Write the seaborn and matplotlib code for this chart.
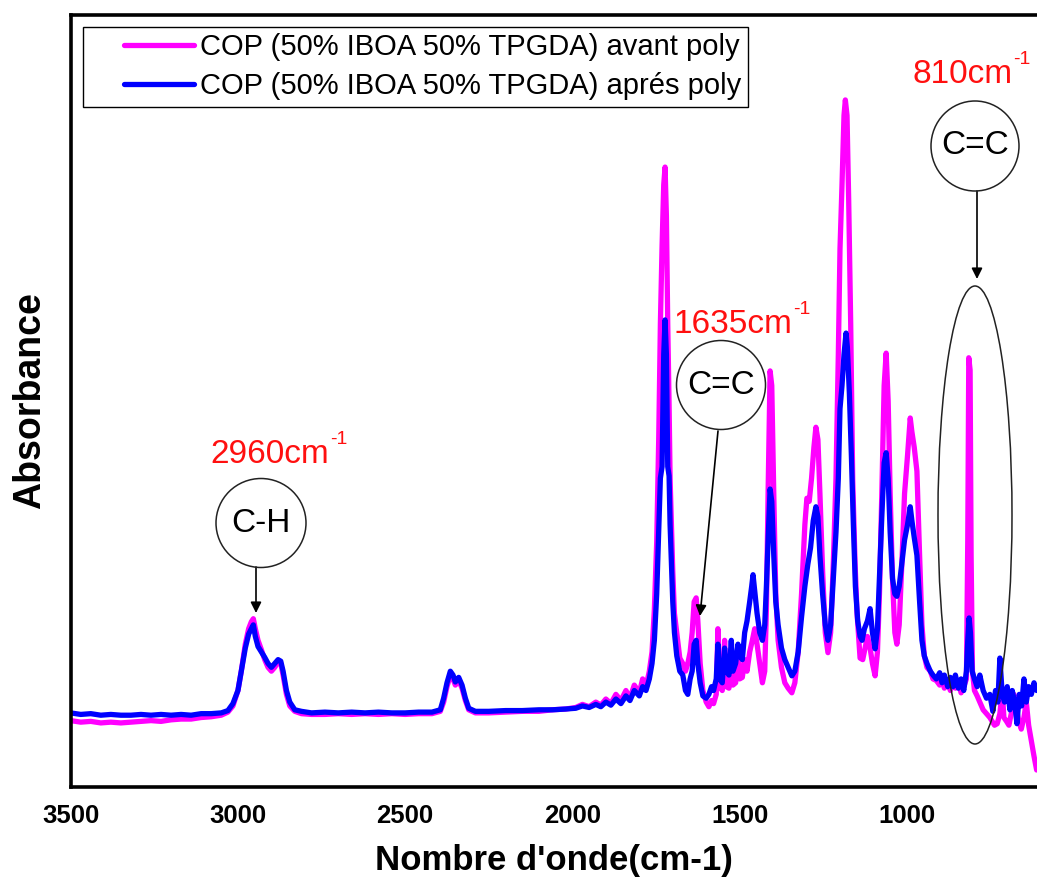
import numpy as np
import pandas as pd
import matplotlib
matplotlib.use("Agg")
import matplotlib.pyplot as plt
import seaborn as sns
from matplotlib.patches import Ellipse
from matplotlib.lines import Line2D
from matplotlib.legend_handler import HandlerLine2D
from matplotlib.font_manager import FontProperties

# ---------------- data ----------------
series_labels = ["COP (50% IBOA 50% TPGDA) avant poly",
                 "COP (50% IBOA 50% TPGDA) aprés poly"]
series_colors = ["#FF00FF", "#0000FF"]

wn_avant = [3500, 3470, 3440, 3410, 3380, 3350, 3320, 3290, 3260, 3230, 3200, 3170, 3140, 3110, 3080, 3050,
            3030, 3015, 3000, 2990, 2978, 2968, 2960, 2954, 2948, 2940, 2930, 2920, 2910, 2900, 2890, 2880,
            2872, 2865, 2855, 2845, 2830, 2810, 2780, 2740, 2700, 2660, 2620, 2580, 2540, 2500, 2460, 2420,
            2395, 2385, 2375, 2365, 2357, 2350, 2340, 2330, 2320, 2310, 2290, 2250, 2200, 2150, 2100, 2060,
            2020, 1990, 1970, 1950, 1930, 1915, 1900, 1885, 1870, 1855, 1840, 1828, 1815, 1800, 1790, 1780,
            1770, 1762, 1755, 1748, 1742, 1737, 1732, 1727, 1723, 1719, 1715, 1711, 1708, 1704, 1700, 1695,
            1688, 1679, 1670, 1662, 1655, 1648, 1642, 1636, 1630, 1625, 1618, 1610, 1600, 1592, 1584, 1578,
            1570, 1565, 1560, 1552, 1545, 1540, 1532, 1525, 1520, 1512, 1505, 1500, 1492, 1485, 1478, 1470,
            1462, 1455, 1448, 1440, 1432, 1425, 1420, 1415, 1409, 1404, 1398, 1392, 1385, 1375, 1365, 1355,
            1344, 1335, 1325, 1315, 1305, 1299, 1292, 1285, 1278, 1272, 1266, 1260, 1252, 1244, 1236, 1228,
            1220, 1212, 1205, 1200, 1194, 1188, 1184, 1179, 1174, 1168, 1162, 1155, 1149, 1140, 1132, 1125,
            1118, 1110, 1103, 1095, 1088, 1082, 1075, 1068, 1062, 1056, 1050, 1043, 1036, 1030, 1023, 1015,
            1007, 998, 990, 985, 978, 970, 962, 955, 948, 940, 930, 922, 912, 902, 895, 888,
            878, 870, 862, 855, 846, 838, 830, 822, 818, 815, 811, 808, 804, 798, 790, 782,
            772, 762, 752, 745, 738, 730, 722, 715, 710, 702, 695, 688, 680, 672, 665, 658,
            650, 643, 636, 628, 620, 612]
abs_avant = [0.086, 0.084, 0.085, 0.083, 0.084, 0.083, 0.084, 0.085, 0.086, 0.085, 0.087, 0.088, 0.088, 0.090, 0.091, 0.093,
             0.097, 0.105, 0.125, 0.150, 0.185, 0.205, 0.214, 0.218, 0.205, 0.190, 0.178, 0.165, 0.155, 0.150, 0.155, 0.162,
             0.160, 0.145, 0.120, 0.105, 0.098, 0.095, 0.094, 0.094, 0.095, 0.094, 0.095, 0.094, 0.095, 0.094, 0.095, 0.095,
             0.098, 0.110, 0.130, 0.145, 0.140, 0.132, 0.138, 0.128, 0.112, 0.100, 0.096, 0.096, 0.097, 0.098, 0.098, 0.100,
             0.101, 0.103, 0.107, 0.104, 0.110, 0.106, 0.114, 0.108, 0.120, 0.112, 0.125, 0.115, 0.132, 0.122, 0.140, 0.130,
             0.150, 0.175, 0.230, 0.317, 0.450, 0.600, 0.700, 0.780, 0.803, 0.740, 0.600, 0.496, 0.400, 0.341, 0.280, 0.225,
             0.200, 0.167, 0.160, 0.150, 0.160, 0.175, 0.200, 0.240, 0.245, 0.215, 0.160, 0.125, 0.110, 0.104, 0.112, 0.108,
             0.120, 0.205, 0.130, 0.125, 0.190, 0.130, 0.128, 0.175, 0.132, 0.135, 0.180, 0.140, 0.142, 0.165, 0.150, 0.175,
             0.190, 0.205, 0.185, 0.160, 0.135, 0.150, 0.230, 0.380, 0.539, 0.520, 0.380, 0.250, 0.190, 0.155, 0.135, 0.128,
             0.122, 0.135, 0.175, 0.250, 0.340, 0.374, 0.370, 0.400, 0.440, 0.466, 0.450, 0.380, 0.280, 0.200, 0.174, 0.200,
             0.290, 0.400, 0.560, 0.697, 0.780, 0.870, 0.890, 0.870, 0.760, 0.600, 0.398, 0.290, 0.225, 0.167, 0.165, 0.180,
             0.195, 0.180, 0.160, 0.144, 0.175, 0.250, 0.380, 0.520, 0.562, 0.500, 0.380, 0.270, 0.200, 0.185, 0.210, 0.290,
             0.380, 0.430, 0.478, 0.460, 0.440, 0.409, 0.300, 0.210, 0.170, 0.155, 0.150, 0.140, 0.138, 0.132, 0.140, 0.128,
             0.135, 0.125, 0.140, 0.128, 0.135, 0.122, 0.130, 0.140, 0.320, 0.556, 0.540, 0.300, 0.150, 0.125, 0.118, 0.110,
             0.100, 0.095, 0.090, 0.085, 0.080, 0.082, 0.095, 0.125, 0.090, 0.085, 0.080, 0.095, 0.120, 0.100, 0.085, 0.075,
             0.090, 0.110, 0.080, 0.060, 0.040, 0.022]

wn_apres = [3500, 3470, 3440, 3410, 3380, 3350, 3320, 3290, 3260, 3230, 3200, 3170, 3140, 3110, 3080, 3050,
            3030, 3015, 3000, 2990, 2978, 2968, 2960, 2954, 2948, 2940, 2930, 2920, 2910, 2900, 2890, 2880,
            2872, 2865, 2855, 2845, 2830, 2810, 2780, 2740, 2700, 2660, 2620, 2580, 2540, 2500, 2460, 2420,
            2395, 2385, 2375, 2365, 2357, 2350, 2340, 2330, 2320, 2310, 2290, 2250, 2200, 2150, 2100, 2060,
            2020, 1990, 1970, 1950, 1930, 1915, 1900, 1885, 1870, 1855, 1840, 1828, 1815, 1800, 1790, 1780,
            1770, 1762, 1755, 1748, 1742, 1737, 1732, 1727, 1723, 1719, 1715, 1711, 1708, 1704, 1700, 1695,
            1688, 1679, 1670, 1662, 1655, 1648, 1642, 1636, 1630, 1625, 1618, 1610, 1600, 1592, 1584, 1578,
            1570, 1565, 1560, 1552, 1545, 1540, 1532, 1525, 1520, 1512, 1505, 1500, 1492, 1485, 1478, 1470,
            1464, 1460, 1455, 1448, 1440, 1432, 1425, 1420, 1415, 1409, 1404, 1398, 1392, 1385, 1375, 1365,
            1355, 1344, 1335, 1325, 1315, 1305, 1296, 1288, 1280, 1272, 1266, 1260, 1252, 1244, 1236, 1228,
            1220, 1212, 1205, 1200, 1194, 1188, 1182, 1178, 1172, 1166, 1160, 1154, 1147, 1140, 1134, 1127,
            1118, 1110, 1103, 1095, 1088, 1082, 1075, 1068, 1062, 1056, 1050, 1043, 1036, 1030, 1023, 1015,
            1007, 998, 990, 985, 978, 970, 962, 955, 948, 940, 930, 922, 912, 902, 895, 888,
            878, 870, 862, 855, 846, 838, 830, 822, 818, 814, 810, 805, 798, 790, 782, 772,
            762, 752, 743, 735, 728, 722, 715, 708, 700, 692, 685, 678, 671, 664, 657, 650,
            643, 636, 628, 620, 612]
abs_apres = [0.096, 0.094, 0.095, 0.093, 0.094, 0.093, 0.093, 0.094, 0.093, 0.094, 0.093, 0.094, 0.093, 0.095, 0.095, 0.096,
             0.099, 0.108, 0.125, 0.150, 0.180, 0.198, 0.205, 0.210, 0.195, 0.182, 0.175, 0.168, 0.160, 0.155, 0.160, 0.165,
             0.163, 0.150, 0.125, 0.110, 0.100, 0.098, 0.096, 0.097, 0.096, 0.097, 0.096, 0.097, 0.096, 0.096, 0.097, 0.097,
             0.100, 0.115, 0.135, 0.150, 0.145, 0.136, 0.142, 0.132, 0.115, 0.102, 0.098, 0.098, 0.099, 0.099, 0.100, 0.100,
             0.101, 0.102, 0.105, 0.103, 0.107, 0.104, 0.110, 0.106, 0.114, 0.108, 0.118, 0.112, 0.125, 0.118, 0.130, 0.125,
             0.140, 0.160, 0.190, 0.250, 0.330, 0.400, 0.415, 0.560, 0.605, 0.560, 0.415, 0.403, 0.340, 0.290, 0.240, 0.200,
             0.170, 0.150, 0.145, 0.125, 0.120, 0.140, 0.150, 0.185, 0.190, 0.160, 0.135, 0.118, 0.115, 0.120, 0.130, 0.125,
             0.140, 0.185, 0.140, 0.135, 0.180, 0.150, 0.145, 0.190, 0.150, 0.160, 0.185, 0.170, 0.165, 0.200, 0.215, 0.240,
             0.260, 0.275, 0.255, 0.225, 0.200, 0.190, 0.210, 0.260, 0.320, 0.386, 0.370, 0.300, 0.240, 0.210, 0.180, 0.165,
             0.155, 0.144, 0.150, 0.175, 0.220, 0.260, 0.289, 0.310, 0.345, 0.363, 0.350, 0.300, 0.250, 0.210, 0.190, 0.210,
             0.270, 0.330, 0.400, 0.490, 0.520, 0.560, 0.588, 0.570, 0.510, 0.430, 0.340, 0.260, 0.215, 0.195, 0.190, 0.205,
             0.215, 0.231, 0.200, 0.179, 0.205, 0.270, 0.350, 0.420, 0.433, 0.400, 0.330, 0.270, 0.250, 0.247, 0.260, 0.290,
             0.320, 0.340, 0.363, 0.345, 0.323, 0.300, 0.240, 0.190, 0.170, 0.160, 0.150, 0.145, 0.140, 0.148, 0.135, 0.145,
             0.130, 0.142, 0.130, 0.145, 0.128, 0.140, 0.125, 0.150, 0.190, 0.219, 0.200, 0.150, 0.140, 0.130, 0.145, 0.125,
             0.115, 0.120, 0.098, 0.125, 0.110, 0.167, 0.120, 0.110, 0.130, 0.100, 0.125, 0.110, 0.082, 0.120, 0.105, 0.140,
             0.110, 0.130, 0.120, 0.135, 0.125]

x_ticks = [3500, 3000, 2500, 2000, 1500, 1000]
x_minor = [3250, 2750, 2250, 1750, 1250, 750]
x_label = "Nombre d'onde(cm-1)"
y_label = "Absorbance"

# ---------------- styling ----------------
sns.set_style("white")
plt.rcParams["font.family"] = ["Liberation Sans", "DejaVu Sans"]
plt.rcParams["text.color"] = "black"
plt.rcParams["axes.labelcolor"] = "black"
plt.rcParams["xtick.color"] = "black"
plt.rcParams["ytick.color"] = "black"

W, H = 1037, 877
fig = plt.figure(figsize=(W / 100, H / 100), dpi=100)
fig.patch.set_facecolor("white")
ax_left, ax_top, ax_bottom = 70.7, 15.0, 787.0
ax = fig.add_axes([ax_left / W, 1 - ax_bottom / H, (W - ax_left) / W, (ax_bottom - ax_top) / H])
ax.set_facecolor("white")

df = pd.concat([
    pd.DataFrame({"wn": wn_avant, "A": abs_avant, "serie": series_labels[0]}),
    pd.DataFrame({"wn": wn_apres, "A": abs_apres, "serie": series_labels[1]}),
])
sns.lineplot(data=df, x="wn", y="A", hue="serie", hue_order=series_labels,
             palette=series_colors, estimator=None, sort=True, linewidth=3.8,
             legend=False, ax=ax)

ax.set_xlim(3500, 611)
ax.set_ylim(0, 1)
ax.set_xticks(x_ticks)
ax.set_xticks(x_minor, minor=True)
ax.set_xticklabels([str(t) for t in x_ticks], fontsize=18.5, fontweight="bold", color="black")
ax.set_yticks([])
ax.tick_params(axis="x", which="major", direction="out", length=7, width=2.2, pad=5, colors="black")
ax.tick_params(axis="x", which="minor", direction="out", length=5, width=2.2, colors="black")
for side in ["left", "bottom", "top"]:
    ax.spines[side].set_visible(True)
    ax.spines[side].set_linewidth(2.6)
    ax.spines[side].set_color("black")
ax.spines["right"].set_visible(False)

ax.set_xlabel(x_label, fontsize=25, fontweight="bold", labelpad=12, color="black")
ax.set_ylabel(y_label, fontsize=27, fontweight="bold", labelpad=16, color="black")


# ---------------- legend ----------------
class OffsetLineHandler(HandlerLine2D):
    def create_artists(self, legend, orig_handle, xdescent, ydescent, width, height, fontsize, trans):
        arts = super().create_artists(legend, orig_handle, xdescent, ydescent, width, height, fontsize, trans)
        for a in arts:
            xd = np.asarray(a.get_xdata(), dtype=float)
            if len(xd) >= 2:
                start = xd[0] + 0.33 * (xd[-1] - xd[0])
                a.set_xdata(np.linspace(start, xd[-1], len(xd)))
        return arts


handles = [Line2D([0], [0], color=c, lw=3.8) for c in series_colors]
ax_w = W - ax_left
ax_h = ax_bottom - ax_top
leg = ax.legend(handles, series_labels, loc="upper left",
                bbox_to_anchor=((83 - ax_left) / ax_w, (ax_bottom - 27) / ax_h),
                handler_map={Line2D: OffsetLineHandler()},
                prop=FontProperties(family="Liberation Sans", size=21),
                frameon=True, fancybox=False, edgecolor="black", framealpha=1,
                borderpad=0.22, handlelength=3.6, handletextpad=0.2,
                labelspacing=0.38, borderaxespad=0)
leg.get_frame().set_linewidth(1.0)
for t in leg.get_texts():
    t.set_color("black")


# ---------------- annotations ----------------
def fx(px):
    return px / W


def fy(py):
    return 1 - py / H


renderer = fig.canvas.get_renderer()
red = "#FF1010"
peak_labels = [(210, 463, "2960cm"), (673, 333, "1635cm"), (912, 83, "810cm")]
for px, py, s in peak_labels:
    t = fig.text(fx(px), fy(py), s, color=red, fontsize=24, ha="left", va="baseline")
    bb = t.get_window_extent(renderer=renderer)
    fig.text((bb.x1 + 1) / W, fy(py - 19), "-1", color=red, fontsize=14, ha="left", va="baseline")

circles = [
    (261, 523, 90, 89, "C-H"),
    (721, 385, 89, 89, "C=C"),
    (975, 146, 88, 90, "C=C"),
]
for cx, cy, w, h, txt in circles:
    fig.add_artist(Ellipse((fx(cx), fy(cy)), w / W, h / H, transform=fig.transFigure,
                           fill=False, edgecolor="#222222", lw=1.1))
    fig.text(fx(cx), fy(cy), txt, fontsize=24, ha="center", va="center", color="black")

fig.add_artist(Ellipse((fx(975), fy(515)), 74 / W, 458 / H, transform=fig.transFigure,
                       fill=False, edgecolor="#222222", lw=1.1))

arrows = [((256, 567), (256, 613)), ((718, 431), (700, 616)), ((977, 191), (977, 279))]
for (x0, y0), (x1, y1) in arrows:
    ax.annotate("", xy=(x1, H - y1), xytext=(x0, H - y0),
                xycoords="figure pixels", textcoords="figure pixels",
                arrowprops=dict(arrowstyle="-|>", color="black", lw=1.2,
                                mutation_scale=16, shrinkA=0, shrinkB=0))

fig.savefig("out.png", dpi=100, facecolor="white")
